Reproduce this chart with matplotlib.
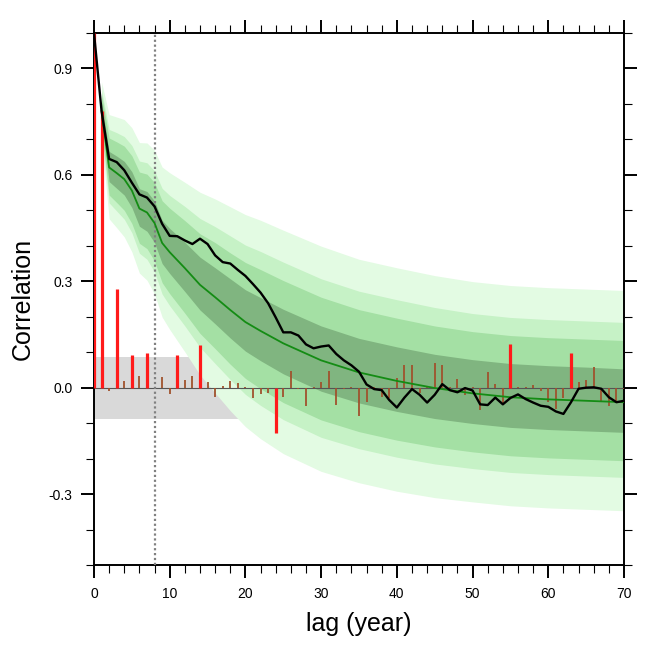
import numpy as np
import matplotlib
matplotlib.use("Agg")
import matplotlib.pyplot as plt
from matplotlib.ticker import MultipleLocator

plt.rcParams['font.family'] = ['Liberation Sans', 'DejaVu Sans']

# sample autocorrelation (black line), lag 0..70
lags = np.arange(0, 71)
acf = [1.0, 0.78, 0.645, 0.636, 0.613, 0.578, 0.545, 0.536, 0.511, 0.462,
       0.428, 0.427, 0.415, 0.405, 0.42, 0.405, 0.373, 0.354, 0.35, 0.332,
       0.315, 0.292, 0.268, 0.238, 0.198, 0.156, 0.156, 0.147, 0.122, 0.111,
       0.116, 0.119, 0.095, 0.077, 0.063, 0.045, 0.009, -0.004, -0.007, -0.035,
       -0.056, -0.028, -0.004, -0.02, -0.042, -0.02, 0.01, -0.007, -0.013, -0.001,
       -0.008, -0.047, -0.049, -0.028, -0.047, -0.029, -0.019, -0.032, -0.042, -0.051,
       -0.054, -0.067, -0.074, -0.041, -0.003, 0.0, 0.001, -0.003, -0.027, -0.041,
       -0.037]

# partial autocorrelation (bars)
pacf = [1.0, 0.78, -0.01, 0.279, 0.02, 0.091, 0.034, 0.097, -0.004, 0.029,
        -0.018, 0.093, 0.022, 0.034, 0.119, 0.017, -0.027, 0.006, 0.02, 0.012,
        0.002, -0.03, -0.018, -0.015, -0.129, -0.027, 0.046, -0.003, -0.053, 0.003,
        0.017, 0.048, -0.049, -0.003, 0.002, -0.08, -0.041, 0.001, -0.026, -0.029,
        0.026, 0.065, 0.065, -0.016, 0.002, 0.069, 0.063, 0.002, 0.025, -0.022,
        0.003, -0.064, 0.044, 0.011, -0.042, 0.122, 0.003, 0.002, 0.008, -0.01,
        -0.04, -0.06, -0.028, 0.099, 0.016, 0.023, 0.057, -0.041, -0.051, -0.043,
        -0.005]
sig = 0.087
lag_mark = 8

# red-noise ensemble: median and percentile bands
band_lags = [1, 2, 3, 4, 5, 6, 7, 8, 9, 10, 12, 14, 16, 18, 20, 22, 25, 30,
             35, 40, 45, 50, 55, 60, 65, 70]
median = [0.78, 0.621, 0.605, 0.588, 0.556, 0.505, 0.494, 0.464, 0.408, 0.382,
          0.337, 0.29, 0.255, 0.219, 0.185, 0.16, 0.125, 0.077, 0.043, 0.019,
          -0.001, -0.016, -0.027, -0.033, -0.037, -0.041]
lo4 = [0.701, 0.476, 0.451, 0.425, 0.383, 0.323, 0.303, 0.264, 0.199, 0.164,
       0.101, 0.036, -0.015, -0.065, -0.110, -0.144, -0.186, -0.236, -0.268, -0.292,
       -0.310, -0.322, -0.333, -0.339, -0.343, -0.347]
lo3 = [0.725, 0.521, 0.498, 0.475, 0.437, 0.379, 0.362, 0.326, 0.264, 0.231,
       0.174, 0.114, 0.068, 0.023, -0.019, -0.050, -0.090, -0.140, -0.172, -0.196,
       -0.215, -0.228, -0.239, -0.245, -0.249, -0.253]
lo2 = [0.737, 0.543, 0.522, 0.500, 0.463, 0.407, 0.392, 0.357, 0.296, 0.265,
       0.210, 0.153, 0.110, 0.066, 0.026, -0.003, -0.042, -0.091, -0.124, -0.148,
       -0.167, -0.181, -0.192, -0.198, -0.202, -0.206]
lo1 = [0.758, 0.581, 0.562, 0.543, 0.508, 0.455, 0.441, 0.409, 0.350, 0.322,
       0.271, 0.219, 0.180, 0.140, 0.103, 0.076, 0.039, -0.010, -0.043, -0.067,
       -0.087, -0.101, -0.112, -0.118, -0.122, -0.126]
hi1 = [0.805, 0.666, 0.653, 0.638, 0.609, 0.561, 0.553, 0.526, 0.472, 0.449,
       0.410, 0.368, 0.338, 0.307, 0.276, 0.254, 0.221, 0.174, 0.139, 0.115,
       0.094, 0.079, 0.068, 0.062, 0.058, 0.053]
hi2 = [0.825, 0.704, 0.693, 0.681, 0.654, 0.608, 0.602, 0.578, 0.527, 0.506,
       0.471, 0.434, 0.409, 0.380, 0.353, 0.333, 0.302, 0.255, 0.220, 0.196,
       0.174, 0.158, 0.147, 0.141, 0.137, 0.133]
hi3 = [0.838, 0.728, 0.719, 0.708, 0.683, 0.639, 0.634, 0.611, 0.562, 0.542,
       0.511, 0.477, 0.454, 0.428, 0.402, 0.384, 0.354, 0.307, 0.272, 0.248,
       0.226, 0.209, 0.198, 0.192, 0.188, 0.184]
hi4 = [0.862, 0.770, 0.763, 0.756, 0.733, 0.691, 0.690, 0.669, 0.622, 0.606,
       0.579, 0.551, 0.532, 0.510, 0.488, 0.472, 0.444, 0.399, 0.362, 0.338,
       0.316, 0.299, 0.288, 0.282, 0.278, 0.274]

fig = plt.figure(figsize=(6.5, 6.51), dpi=100)
ax = fig.add_axes([0.1446, 0.1321, 0.8154, 0.8172])

# significance band of the pacf
ax.axhspan(-sig, sig, color='#d9d9d9', lw=0, zorder=0)

ax.fill_between(band_lags, lo4, hi4, color='#e3fbe3', lw=0, zorder=1)
ax.fill_between(band_lags, lo3, hi3, color='#c6f2c6', lw=0, zorder=1)
ax.fill_between(band_lags, lo2, hi2, color='#a4e0a4', lw=0, zorder=1)
ax.fill_between(band_lags, lo1, hi1, color='#80b580', lw=0, zorder=1)

ax.axhline(0, color='#555555', lw=0.8, zorder=2)

pacf = np.array(pacf)
big = np.abs(pacf) > sig
ax.vlines(lags[~big], 0, pacf[~big], color='#a0522d', lw=1.3, zorder=3)
ax.vlines(lags[big], 0, pacf[big], color='#ff1a1a', lw=2.3, zorder=3)

ax.axvline(lag_mark, color='#808080', lw=1.6, ls=(0, (1, 1.2)), zorder=4)

ax.plot(band_lags, median, color='#148c14', lw=1.3, zorder=5)
ax.plot(lags, acf, color='black', lw=1.7, zorder=6)

ax.set_xlim(0, 70)
ax.set_ylim(-0.5, 1.0)
ax.set_xticks(range(0, 71, 10))
ax.xaxis.set_minor_locator(MultipleLocator(2))
ax.set_yticks([-0.3, 0.0, 0.3, 0.6, 0.9])
ax.set_yticklabels(['-0.3', '0.0', '0.3', '0.6', '0.9'])
ax.yaxis.set_minor_locator(MultipleLocator(0.1))

ax.tick_params(which='both', direction='out', top=True, right=True, labelsize=10)
ax.tick_params(which='major', length=9.5, width=1.4, pad=6)
ax.tick_params(which='minor', length=5.5, width=0.8)
for s in ax.spines.values():
    s.set_linewidth(1.4)

ax.set_xlabel('lag (year)', fontsize=18, labelpad=8)
ax.set_ylabel('Correlation', fontsize=18, labelpad=10)

fig.savefig('out.png', dpi=100)
